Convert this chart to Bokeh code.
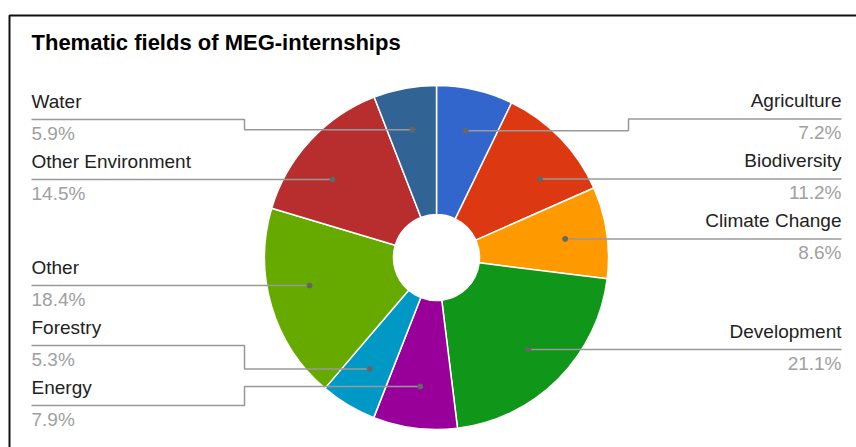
import math
from bokeh.plotting import figure
from bokeh.models import Range1d, ColumnDataSource
from bokeh.core.properties import value
from bokeh.embed import file_html
from bokeh.resources import INLINE

# ---------------- data ----------------
title = "Thematic fields of MEG-internships"
categories = ["Agriculture", "Biodiversity", "Climate Change", "Development", "Energy",
              "Forestry", "Other", "Other Environment", "Water"]
shares = [7.2, 11.2, 8.6, 21.1, 7.9, 5.3, 18.4, 14.5, 5.9]
colors = ["#3366cc", "#dc3912", "#ff9900", "#109618", "#990099",
          "#0099c6", "#66aa00", "#b82e2e", "#316395"]

# ---------------- layout ----------------
W, H = 856, 447          # figure size (px)
CX, CY = 436, 257        # pie centre (page px)
R, HOLE, DOT_R = 172, 43, 130
GAP = 60                 # min vertical distance between label lines
LEFT_X, RIGHT_X = 31, 841
ELBOW = R + 20
FONT = "Liberation Sans"
LABEL_DY, PCT_DY = -18, 14   # text offsets from the leader line (page px)


def fx(X):
    return X


def fy(Y):
    return H - Y


total = sum(shares)
starts, ends = [], []
acc = 0.0
for s in shares:
    starts.append(acc / total * 2 * math.pi)
    acc += s
    ends.append(acc / total * 2 * math.pi)
mids = [(a + b) / 2 for a, b in zip(starts, ends)]

p = figure(width=W, height=H, output_backend="svg", toolbar_location=None,
           x_range=Range1d(0, W), y_range=Range1d(0, H),
           x_axis_location=None, y_axis_location=None, min_border=0,
           background_fill_color="white", border_fill_color="white")
p.outline_line_color = None
p.grid.visible = False

# frame (screenshot border)
p.line(x=[fx(9), fx(9), fx(880)], y=[fy(480), fy(15), fy(15)], line_color="#111111", line_width=2)

# wedges
src = ColumnDataSource(dict(
    start=[math.pi / 2 - a for a in starts],
    end=[math.pi / 2 - b for b in ends],
    color=colors, cat=categories))
p.annular_wedge(x=fx(CX), y=fy(CY), inner_radius=HOLE, outer_radius=R,
                start_angle="start", end_angle="end", direction="clock",
                fill_color="color", line_color="white", line_width=1.5, source=src)


def pt(theta, r):
    return CX + r * math.sin(theta), CY - r * math.cos(theta)


def resolve(desired, lo, hi):
    clusters = [[i] for i in range(len(desired))]

    def place(c):
        m = sum(desired[i] for i in c) / len(c)
        top = m - GAP * (len(c) - 1) / 2
        top = max(lo, min(top, hi - GAP * (len(c) - 1)))
        return top

    changed = True
    while changed:
        changed = False
        tops = [place(c) for c in clusters]
        for k in range(len(clusters) - 1):
            end_k = tops[k] + GAP * (len(clusters[k]) - 1)
            if tops[k + 1] - end_k < GAP - 1e-9:
                clusters[k] = clusters[k] + clusters[k + 1]
                del clusters[k + 1]
                changed = True
                break
    out = [0] * len(desired)
    for c in clusters:
        t = place(c)
        for j, i in enumerate(c):
            out[i] = t + GAP * j
    return out


lo, hi = CY - R + 24, CY + R - 24
dots = [pt(m, DOT_R) for m in mids]
right = [i for i in range(len(shares)) if mids[i] < math.pi]
left = [i for i in range(len(shares)) if mids[i] >= math.pi]
label_y = {}
for side in (right, left):
    order = sorted(side, key=lambda i: dots[i][1])
    ys = resolve([dots[i][1] for i in order], lo, hi)
    for i, y in zip(order, ys):
        label_y[i] = y

lx, ly, ltxt, lal = [], [], [], []
px_, py_, ptxt, pal = [], [], [], []
xs, ys = [], []
dx, dy = [], []
for i in range(len(shares)):
    L = label_y[i]
    is_right = mids[i] < math.pi
    dxp, dyp = dots[i]
    c = (CY - L) / DOT_R
    if abs(c) <= 1:
        t1 = math.acos(c)
        for th in (t1, 2 * math.pi - t1):
            if starts[i] + 0.03 < th < ends[i] - 0.03:
                dxp, dyp = pt(th, DOT_R)
                dyp = L
                break
    edge = RIGHT_X if is_right else LEFT_X
    elbow = CX + ELBOW if is_right else CX - ELBOW
    if abs(dyp - L) < 0.5:
        path = [(edge, L), (dxp, L)]
    else:
        path = [(edge, L), (elbow, L), (elbow, dyp), (dxp, dyp)]
    xs.append([fx(a) for a, b in path])
    ys.append([fy(b) for a, b in path])
    dx.append(fx(dxp))
    dy.append(fy(dyp))
    lx.append(fx(edge)); ly.append(fy(L + LABEL_DY)); ltxt.append(categories[i])
    lal.append("right" if is_right else "left")
    px_.append(fx(edge)); py_.append(fy(L + PCT_DY)); ptxt.append(f"{shares[i]:.1f}%")
    pal.append("right" if is_right else "left")

p.multi_line(xs=xs, ys=ys, line_color="#999999", line_width=1.5)
p.scatter(x=dx, y=dy, size=5, fill_color="#666666", line_color="#666666")

p.text(x=lx, y=ly, text=ltxt, text_align=lal, text_baseline="alphabetic",
       text_font=value(FONT), text_font_size=value("19px"), text_color="#222222")
p.text(x=px_, y=py_, text=ptxt, text_align=pal, text_baseline="alphabetic",
       text_font=value(FONT), text_font_size=value("19px"), text_color="#a0a0a0")

p.text(x=[fx(31)], y=[fy(42)], text=[title], text_align="left", text_baseline="alphabetic",
       text_font=value(FONT), text_font_size=value("22px"), text_font_style="bold",
       text_color="#000000")

open("out.html", "w").write(file_html(p, INLINE))
